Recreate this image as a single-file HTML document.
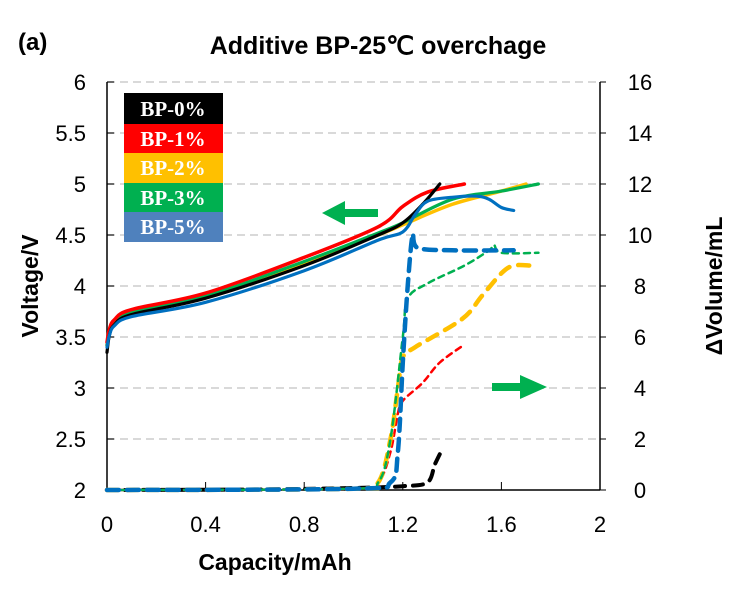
<!DOCTYPE html>
<html><head><meta charset="utf-8"><style>
body{margin:0;background:#fff;}
svg{display:block;font-family:"Liberation Sans",sans-serif;}
</style></head><body>
<svg id="chart" width="739" height="592" viewBox="0 0 739 592">
<text x="18" y="50" font-size="24" font-weight="bold">(a)</text>
<text x="378" y="54" font-size="25" font-weight="bold" text-anchor="middle">Additive BP-25℃ overchage</text>
<g id="grid"></g>
<g id="axes"></g>
<g id="series"></g>
<text x="275" y="570" font-size="23" font-weight="bold" text-anchor="middle">Capacity/mAh</text>
<text transform="translate(38,286) rotate(-90)" font-size="23" font-weight="bold" text-anchor="middle">Voltage/V</text>
<text transform="translate(722,286) rotate(-90)" font-size="23" font-weight="bold" text-anchor="middle">ΔVolume/mL</text>
<g font-family="Liberation Serif,serif" font-weight="bold" font-size="21" fill="#fff">
<rect x="124" y="93" width="99" height="31" fill="#000"/><text x="173" y="116" text-anchor="middle">BP-0%</text>
<rect x="124" y="124" width="99" height="29" fill="#ff0000"/><text x="173" y="146" text-anchor="middle">BP-1%</text>
<rect x="124" y="153" width="99" height="30" fill="#ffc000"/><text x="173" y="175" text-anchor="middle">BP-2%</text>
<rect x="124" y="183" width="99" height="29" fill="#00b050"/><text x="173" y="205" text-anchor="middle">BP-3%</text>
<rect x="124" y="212" width="99" height="30" fill="#4f81bd"/><text x="173" y="234" text-anchor="middle">BP-5%</text>
</g>
<polygon points="378,209 345,209 345,201 322,213 345,225 345,217 378,217" fill="#00b050"/>
<polygon points="492,383 520,383 520,375 547,387 520,399 520,391 492,391" fill="#00b050"/>
</svg>
<script>
const xTicks=[0,0.4,0.8,1.2,1.6,2];
const vTicks=[2,2.5,3,3.5,4,4.5,5,5.5,6];
const volTicks=[0,2,4,6,8,10,12,14,16];
const vBP0=[[0,3.35],[0.01,3.52],[0.03,3.62],[0.1,3.72],[0.4,3.88],[0.8,4.2],[1.1,4.5],[1.2,4.62],[1.28,4.8],[1.35,5.0]];
const vBP1=[[0,3.45],[0.01,3.58],[0.03,3.67],[0.1,3.77],[0.4,3.93],[0.8,4.28],[1.1,4.58],[1.2,4.78],[1.3,4.92],[1.45,5.0]];
const vBP2=[[0,3.42],[0.01,3.55],[0.03,3.64],[0.1,3.74],[0.4,3.89],[0.8,4.22],[1.1,4.5],[1.2,4.6],[1.4,4.8],[1.6,4.93],[1.7,5.0]];
const vBP3=[[0,3.42],[0.01,3.55],[0.03,3.64],[0.1,3.74],[0.4,3.9],[0.8,4.24],[1.1,4.52],[1.2,4.62],[1.4,4.85],[1.6,4.93],[1.75,5.0]];
const vBP5=[[0,3.4],[0.01,3.52],[0.03,3.61],[0.1,3.7],[0.4,3.84],[0.8,4.15],[1.1,4.45],[1.2,4.53],[1.25,4.7],[1.3,4.83],[1.4,4.87],[1.5,4.88],[1.55,4.85],[1.6,4.77],[1.65,4.74]];
const volBP0=[[0,0],[0.6,0.02],[1.0,0.08],[1.2,0.15],[1.3,0.3],[1.33,1.0],[1.36,1.6]];
const volBP1=[[0,0],[1.0,0.05],[1.1,0.3],[1.15,1.5],[1.18,3.0],[1.2,3.5],[1.28,4.2],[1.35,5.0],[1.45,5.7]];
const volBP2=[[0,0],[1.0,0.05],[1.1,0.3],[1.15,2.0],[1.18,4.0],[1.2,5.2],[1.25,5.6],[1.44,6.7],[1.52,7.6],[1.6,8.5],[1.65,8.8],[1.72,8.8]];
const volBP3=[[0,0],[1.0,0.05],[1.1,0.3],[1.15,2.0],[1.2,6.0],[1.22,7.5],[1.3,8.1],[1.45,8.8],[1.55,9.4],[1.57,9.6],[1.6,9.3],[1.75,9.3]];
const volBP5=[[0,0],[1.0,0.05],[1.15,0.3],[1.18,1.5],[1.2,5.0],[1.22,8.0],[1.24,10.0],[1.26,9.5],[1.4,9.4],[1.65,9.4]];
const NS='http://www.w3.org/2000/svg';
const X0=107,X1=600,Y0=490,Y1=82;
const sx=c=>X0+(c-0)/(2-0)*(X1-X0);
const sv=v=>Y0-(v-2)/(6-2)*(Y0-Y1);
const sq=q=>Y0-q/16*(Y0-Y1);
function mk(tag,attrs,parent){const e=document.createElementNS(NS,tag);for(const k in attrs)e.setAttribute(k,attrs[k]);parent.appendChild(e);return e;}
const grid=document.getElementById('grid'),axes=document.getElementById('axes'),ser=document.getElementById('series');
vTicks.forEach(v=>{
  if(v>2){const l=mk('line',{x1:X0,x2:X1,y1:sv(v),y2:sv(v),stroke:'#d9d9d9','stroke-width':2,'stroke-dasharray':'8,5'},grid);
  
  }
  const t=mk('text',{x:86,y:sv(v)+8,'font-size':22,'text-anchor':'end'},axes);t.textContent=v;
  
  
  mk('line',{x1:X0,x2:X0+7,y1:sv(v),y2:sv(v),stroke:'#000'},axes);
});
volTicks.forEach(q=>{
  const t=mk('text',{x:640,y:sq(q)+8,'font-size':22,'text-anchor':'middle'},axes);t.textContent=q;
  
  
  mk('line',{x1:X1,x2:X1+6,y1:sq(q),y2:sq(q),stroke:'#000'},axes);
});
xTicks.forEach(c=>{
  const t=mk('text',{x:sx(c),y:532,'font-size':22,'text-anchor':'middle'},axes);t.textContent=c;
  
  
  mk('line',{x1:sx(c),x2:sx(c),y1:Y0,y2:Y0-8,stroke:'#000'},axes);
});
mk('line',{x1:X0,x2:X0,y1:Y1,y2:Y0,stroke:'#000','stroke-width':1.5},axes);
mk('line',{x1:X1,x2:X1,y1:Y1,y2:Y0,stroke:'#000','stroke-width':1.5},axes);
mk('line',{x1:X0,x2:X1,y1:Y0,y2:Y0,stroke:'#000','stroke-width':1.5},axes);
function smooth(pts){
  let d='M'+pts[0][0].toFixed(1)+','+pts[0][1].toFixed(1);
  for(let i=0;i<pts.length-1;i++){
    const p0=pts[i-1]||pts[i],p1=pts[i],p2=pts[i+1],p3=pts[i+2]||p2;
    const c1=[p1[0]+(p2[0]-p0[0])/6,p1[1]+(p2[1]-p0[1])/6];
    const c2=[p2[0]-(p3[0]-p1[0])/6,p2[1]-(p3[1]-p1[1])/6];
    d+='C'+c1.map(n=>n.toFixed(1)).join(',')+' '+c2.map(n=>n.toFixed(1)).join(',')+' '+p2.map(n=>n.toFixed(1)).join(',');
  }
  return d;
}
function draw(data,fy,color,w,dash,name){
  const d=smooth(data.map(p=>[sx(p[0]),fy(p[1])]));
  const a={d:d,fill:'none',stroke:color,'stroke-width':w,'stroke-linejoin':'round','stroke-linecap':'round'};
  if(dash)a['stroke-dasharray']=dash;
  const p=mk('path',a,ser);
  
  
}
draw(volBP0,sq,'#000',4,'10,8','volume-bp0');
draw(volBP1,sq,'#ff0000',2.5,'6,5','volume-bp1');
draw(volBP2,sq,'#ffc000',4.5,'11,9','volume-bp2');
draw(volBP3,sq,'#00b050',2.5,'6,5','volume-bp3');
draw(volBP5,sq,'#0070c0',4.5,'12,8','volume-bp5');
draw(vBP2,sv,'#ffc000',3.5,null,'voltage-bp2');
draw(vBP3,sv,'#00b050',3.2,null,'voltage-bp3');
draw(vBP1,sv,'#ff0000',3.5,null,'voltage-bp1');
draw(vBP0,sv,'#000',3.2,null,'voltage-bp0');
draw(vBP5,sv,'#0070c0',3.2,null,'voltage-bp5');
</script>
</body></html>
